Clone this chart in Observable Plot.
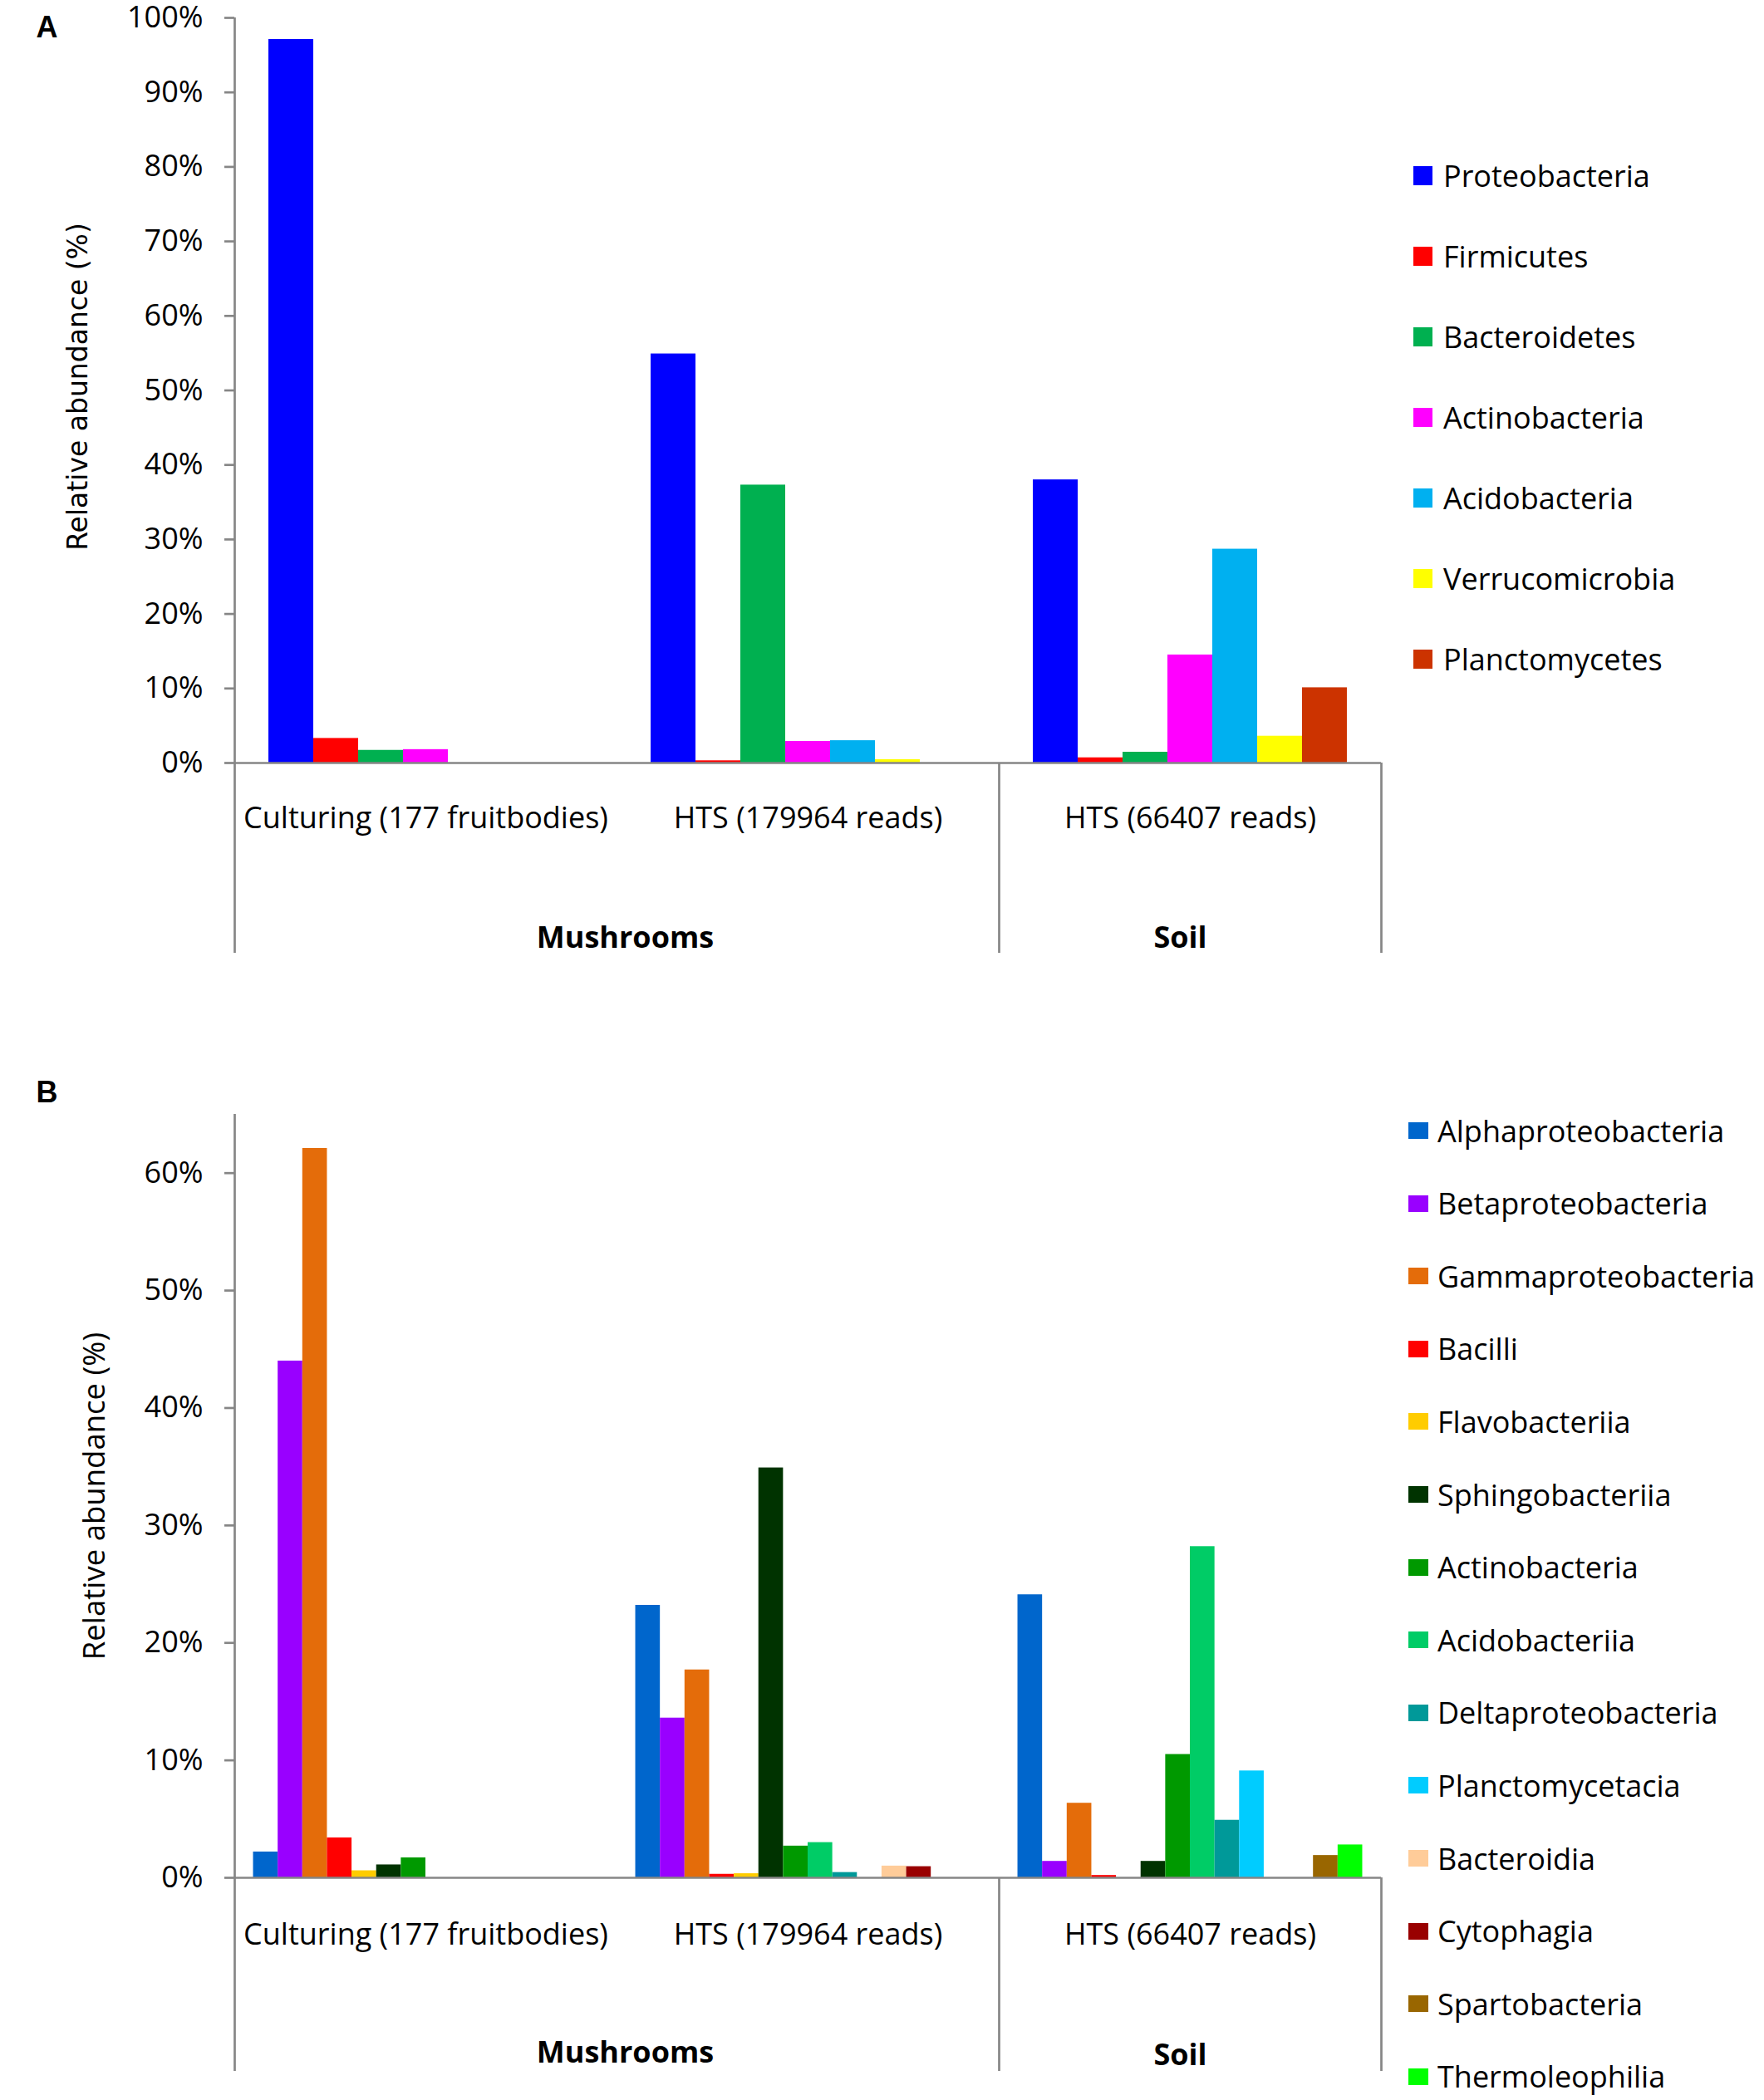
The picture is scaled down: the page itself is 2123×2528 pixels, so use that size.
<!DOCTYPE html>
<html>
<head>
<meta charset="utf-8">
<script src="https://cdn.jsdelivr.net/npm/d3@7"></script>
<script src="https://cdn.jsdelivr.net/npm/@observablehq/plot@0.6"></script>
<style>
  html, body { margin: 0; padding: 0; background: #fff; }
  #page { position: relative; width: 2123px; height: 2528px; background: #fff; overflow: hidden; }
  .panel { position: absolute; left: 0; }
  .legend-item { position: absolute; display: flex; align-items: center; font-family: "Open Sans", sans-serif; font-size: 36px; color: #000; white-space: nowrap; }
  .legend-item .sw { display: inline-block; flex: none; }
</style>
</head>
<body>
<div id="page"></div>
<script>
// ---------- data ----------
const groups = ["Culturing (177 fruitbodies)", "HTS (179964 reads)", "HTS (66407 reads)"];
const habitats = ["Mushrooms", "Soil"];
const yTitle = "Relative abundance (%)";
const panelLabels = ["A", "B"];

// Panel A: phyla
const phylaA = ["Proteobacteria", "Firmicutes", "Bacteroidetes", "Actinobacteria", "Acidobacteria", "Verrucomicrobia", "Planctomycetes"];
const colorsA = ["#0000FF", "#FF0000", "#00B050", "#FF00FF", "#00B0F0", "#FFFF00", "#CC3300"];
const culturingA = [97.1, 3.3, 1.7, 1.8, 0, 0, 0];
const htsMushroomA = [54.9, 0.3, 37.3, 2.9, 3.0, 0.45, 0];
const htsSoilA = [38.0, 0.7, 1.45, 14.5, 28.7, 3.6, 10.1];
const yTicksA = [0, 10, 20, 30, 40, 50, 60, 70, 80, 90, 100];
const yMaxA = 100;

// Panel B: classes
const classesB = ["Alphaproteobacteria", "Betaproteobacteria", "Gammaproteobacteria", "Bacilli", "Flavobacteriia", "Sphingobacteriia", "Actinobacteria", "Acidobacteriia", "Deltaproteobacteria", "Planctomycetacia", "Bacteroidia", "Cytophagia", "Spartobacteria", "Thermoleophilia"];
const colorsB = ["#0066CC", "#9900FF", "#E46C0A", "#FF0000", "#FFCC00", "#003300", "#009900", "#00CC66", "#009999", "#00CCFF", "#FFCC99", "#990000", "#996600", "#00FF00"];
const culturingB = [2.2, 44.0, 62.1, 3.4, 0.6, 1.1, 1.7, 0, 0, 0, 0, 0, 0, 0];
const htsMushroomB = [23.2, 13.6, 17.7, 0.3, 0.35, 34.9, 2.7, 3.0, 0.45, 0, 1.0, 0.95, 0, 0];
const htsSoilB = [24.1, 1.4, 6.35, 0.2, 0, 1.4, 10.5, 28.2, 4.9, 9.1, 0, 0, 1.9, 2.8];
const yTicksB = [0, 10, 20, 30, 40, 50, 60];
const yMaxB = 65;

// ---------- layout ----------
const GRAY = "#868686";
const FONT = "'Open Sans', sans-serif";
const page = document.getElementById("page");

function rowsOf(taxa, seriesList) {
  const rows = [];
  seriesList.forEach((vals, g) => taxa.forEach((t, i) => rows.push({group: groups[g], taxon: t, value: vals[i]})));
  return rows;
}

function makePanel(cfg) {
  const {taxa, colors, series, yTicks, yMax, top, height, marginTop, marginBottom, ext,
         fxPad, hab, titleFont, titleSize, titleDx, titleDy, labelDy, label} = cfg;
  const width = 1700, marginLeft = 282, marginRight = 38;
  const P = 0.76;
  const facetW = (width - marginLeft - marginRight) / groups.length;
  const bw = facetW / (taxa.length + 2 * P);
  const edge = (P + 0.5) * bw;
  const rows = rowsOf(taxa, series);

  const chart = Plot.plot({
    width, height, marginLeft, marginRight, marginTop, marginBottom,
    facet: {marginTop: 0, marginRight: 0, marginBottom: 0, marginLeft: 0},
    style: {fontFamily: FONT, fontSize: "36px", color: "#000", background: "transparent", overflow: "visible"},
    fx: {domain: groups, padding: 0, round: false, label: null},
    x: {domain: taxa, paddingInner: 0, paddingOuter: P, round: false, axis: null},
    y: {domain: [0, yMax], label: null},
    color: {domain: taxa, range: colors},
    marks: [
      Plot.barY(rows, {fx: "group", x: "taxon", y: "value", fill: "taxon"}),
      Plot.axisY({ticks: yTicks, tickFormat: d => d + "%", tickSize: 12, tickPadding: 26, stroke: GRAY, strokeWidth: 2.7, label: null}),
      Plot.axisFx({anchor: "bottom", tickSize: 0, tickPadding: fxPad, label: null}),
      Plot.ruleY([0], {stroke: GRAY, strokeWidth: 2.7}),
      // vertical value axis line, extended down through the category area
      Plot.ruleX([groups[0]], {fx: d => d, x: () => taxa[0], dx: -edge, stroke: GRAY, strokeWidth: 2.7, insetBottom: -ext}),
      // separators between habitats and at the right end
      Plot.ruleX([groups[2]], {fx: d => d, x: () => taxa[0], dx: -edge, y1: 0, stroke: GRAY, strokeWidth: 2.7, insetBottom: -ext}),
      Plot.ruleX([groups[2]], {fx: d => d, x: () => taxa[taxa.length - 1], dx: edge, y1: 0, stroke: GRAY, strokeWidth: 2.7, insetBottom: -ext}),
      // habitat labels
      Plot.text([habitats[0]], {fx: () => groups[0], text: d => d, frameAnchor: "bottom-right", textAnchor: "middle", lineAnchor: "middle", dx: 10, dy: hab[0], fontWeight: "bold", fontSize: 36}),
      Plot.text([habitats[1]], {fx: () => groups[2], text: d => d, frameAnchor: "bottom", textAnchor: "middle", lineAnchor: "middle", dx: -12, dy: hab[1], fontWeight: "bold", fontSize: 36}),
      // y title
      Plot.text([yTitle], {fx: () => groups[0], text: d => d, frameAnchor: "left", textAnchor: "middle", lineAnchor: "middle", rotate: -90, dx: titleDx, dy: titleDy, fontFamily: titleFont, fontSize: titleSize}),
      // panel letter
      Plot.text([label], {fx: () => groups[0], text: d => d, frameAnchor: "top-left", textAnchor: "middle", lineAnchor: "middle", dx: -226, dy: labelDy, fontFamily: "'Liberation Sans', Arial, sans-serif", fontWeight: "bold", fontSize: 36})
    ]
  });
  chart.classList.add("panel");
  chart.style.top = top + "px";
  page.appendChild(chart);
}

function makeLegend(taxa, colors, cfg) {
  const {x, sw, sh, gap, y0, step} = cfg;
  taxa.forEach((t, i) => {
    const item = document.createElement("div");
    item.className = "legend-item";
    item.style.left = x + "px";
    item.style.top = (y0 + i * step - 30) + "px";
    item.style.height = "60px";
    const s = document.createElement("span");
    s.className = "sw";
    s.style.width = sw + "px";
    s.style.height = sh + "px";
    s.style.background = colors[i];
    s.style.marginRight = gap + "px";
    const l = document.createElement("span");
    l.textContent = t;
    item.appendChild(s);
    item.appendChild(l);
    page.appendChild(item);
  });
}

makePanel({
  taxa: phylaA, colors: colorsA, series: [culturingA, htsMushroomA, htsSoilA],
  yTicks: yTicksA, yMax: yMaxA, top: 0, height: 1190, marginTop: 21, marginBottom: 272, ext: 229,
  fxPad: 53, hab: [211, 211], titleFont: "'DejaVu Sans', Verdana, sans-serif", titleSize: 33,
  titleDx: -188.5, titleDy: -4.5, labelDy: 12, label: panelLabels[0]
});
makePanel({
  taxa: classesB, colors: colorsB, series: [culturingB, htsMushroomB, htsSoilB],
  yTicks: yTicksB, yMax: yMaxB, top: 1250, height: 1278, marginTop: 91, marginBottom: 268, ext: 233,
  fxPad: 55, hab: [211, 214], titleFont: FONT, titleSize: 36.5,
  titleDx: -168.5, titleDy: 0, labelDy: -26, label: panelLabels[1]
});

makeLegend(phylaA, colorsA, {x: 1701, sw: 23, sh: 23, gap: 13, y0: 211, step: 97});
makeLegend(classesB, colorsB, {x: 1695, sw: 24, sh: 20, gap: 11, y0: 1361, step: 87.6});
</script>
</body>
</html>
